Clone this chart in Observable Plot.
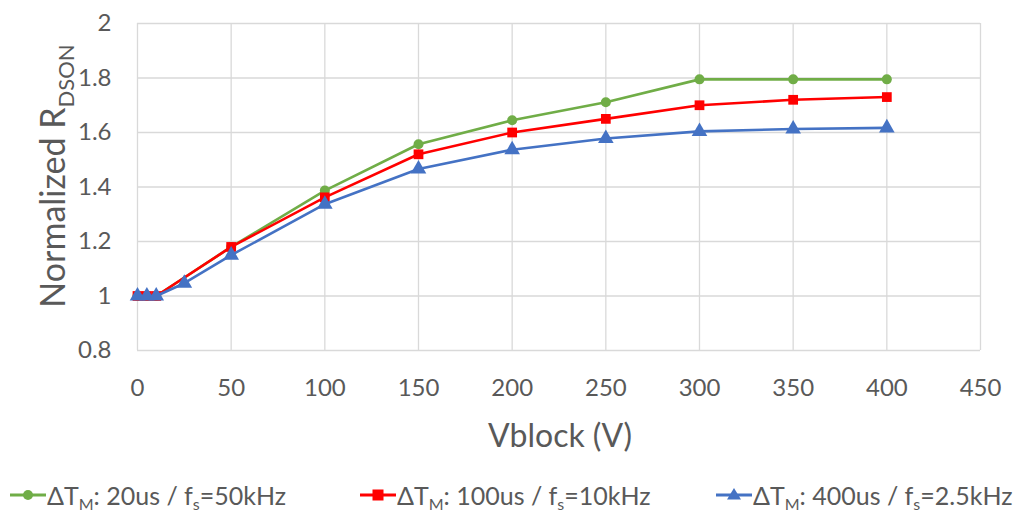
<!DOCTYPE html>
<html>
<head>
<meta charset="utf-8">
<script src="https://cdn.jsdelivr.net/npm/d3@7"></script>
<script src="https://cdn.jsdelivr.net/npm/@observablehq/plot@0.6"></script>
<style>
  html, body { margin: 0; padding: 0; background: #fff; }
  body { width: 1024px; height: 514px; overflow: hidden; font-family: Lato, "Open Sans", sans-serif; }
  #legend { position: relative; height: 44px; color: #595959; font-size: 25px; }
  .item { position: absolute; top: 10px; display: flex; align-items: center; white-space: nowrap; }
  .item svg { margin-right: 1px; }
  sub { font-size: 16px; vertical-align: -5px; line-height: 0; }
</style>
</head>
<body>
<div id="chart"></div>
<div id="legend"></div>
<script>
const vblock = [0, 5, 10, 50, 100, 150, 200, 250, 300, 350, 400];
const vblockBlue = [0, 5, 10, 25, 50, 100, 150, 200, 250, 300, 350, 400];
const green20us = [1, 1, 1, 1.18, 1.387, 1.557, 1.645, 1.711, 1.795, 1.795, 1.795];
const red100us = [1, 1, 1, 1.18, 1.362, 1.52, 1.60, 1.65, 1.70, 1.72, 1.73];
const blue400us = [1, 1, 1, 1.047, 1.15, 1.337, 1.466, 1.537, 1.578, 1.604, 1.613, 1.617];
const seriesNames = ["20us", "100us", "400us"];
const seriesColors = ["#70ad47", "#ff0000", "#4472c4"];
const xTicks = [0, 50, 100, 150, 200, 250, 300, 350, 400, 450];
const yTicks = [0.8, 1, 1.2, 1.4, 1.6, 1.8, 2];

const rows = [
  ...vblock.map((x, i) => ({x, y: green20us[i], s: "20us"})),
  ...vblock.map((x, i) => ({x, y: red100us[i], s: "100us"})),
  ...vblockBlue.map((x, i) => ({x, y: blue400us[i], s: "400us"}))
];
const byS = s => rows.filter(d => d.s === s);

const chart = Plot.plot({
  width: 1024,
  height: 470,
  marginLeft: 137,
  marginRight: 44,
  marginTop: 23,
  marginBottom: 120,
  style: {fontFamily: "Lato, 'Open Sans', sans-serif", fontSize: "24px", color: "#595959", background: "#fff"},
  x: {domain: [0, 450], ticks: xTicks, tickFormat: d => String(d), label: null},
  y: {domain: [0.8, 2], ticks: yTicks, tickFormat: d => String(+d.toFixed(1)), label: null},
  color: {domain: seriesNames, range: seriesColors},
  marks: [
    Plot.gridX(xTicks, {stroke: "#d9d9d9", strokeOpacity: 1, strokeWidth: 1.3}),
    Plot.gridY(yTicks, {stroke: "#d9d9d9", strokeOpacity: 1, strokeWidth: 1.3}),
    Plot.axisX(xTicks, {tickSize: 0, tickPadding: 28, fontSize: 24, fill: "#595959", tickFormat: d => String(d)}),
    Plot.axisY(yTicks, {tickSize: 0, tickPadding: 26, fontSize: 24, fill: "#595959", tickFormat: d => String(+d.toFixed(1))}),
    Plot.line(byS("20us"), {x: "x", y: "y", stroke: "s", strokeWidth: 2.6}),
    Plot.dot(byS("20us"), {x: "x", y: "y", fill: "s", symbol: "circle", r: 5, stroke: null}),
    Plot.line(byS("100us"), {x: "x", y: "y", stroke: "s", strokeWidth: 2.6}),
    Plot.dot(byS("100us"), {x: "x", y: "y", fill: "s", symbol: "square", r: 5.5, stroke: null}),
    Plot.line(byS("400us"), {x: "x", y: "y", stroke: "s", strokeWidth: 2.6}),
    Plot.dot(byS("400us"), {x: "x", y: "y", fill: "s", symbol: "triangle", r: 5.8, stroke: null})
  ]
});

const svg = d3.select(chart);
// x-axis title
svg.append("text")
  .attr("x", 560).attr("y", 447)
  .attr("text-anchor", "middle")
  .attr("fill", "#595959")
  .style("font-size", "32px")
  .text("Vblock (V)");
// y-axis title with subscript
const yt = svg.append("text")
  .attr("transform", "translate(65,176) rotate(-90)")
  .attr("text-anchor", "middle")
  .attr("fill", "#595959")
  .style("font-size", "34px");
yt.append("tspan").text("Normalized R");
yt.append("tspan").attr("dy", 9).style("font-size", "22px").text("DSON");

document.getElementById("chart").appendChild(chart);

// legend
const legendItems = [
  {left: 10, color: seriesColors[0], sym: "circle", t: "20us", f: "50kHz"},
  {left: 360, color: seriesColors[1], sym: "square", t: "100us", f: "10kHz"},
  {left: 716, color: seriesColors[2], sym: "triangle", t: "400us", f: "2.5kHz"}
];
const legend = document.getElementById("legend");
for (const it of legendItems) {
  const div = document.createElement("div");
  div.className = "item";
  div.style.left = it.left + "px";
  let marker;
  if (it.sym === "circle") marker = `<circle cx="18" cy="14" r="5" fill="${it.color}"/>`;
  else if (it.sym === "square") marker = `<rect x="12.5" y="8.5" width="11" height="11" fill="${it.color}"/>`;
  else marker = `<polygon points="18,7 25,18.5 11,18.5" fill="${it.color}"/>`;
  div.innerHTML = `<svg width="36" height="28"><line x1="0" x2="36" y1="14" y2="14" stroke="${it.color}" stroke-width="3"/>${marker}</svg>` +
    `<span>ΔT<sub>M</sub>: ${it.t} / f<sub>s</sub>=${it.f}</span>`;
  legend.appendChild(div);
}
</script>
</body>
</html>
